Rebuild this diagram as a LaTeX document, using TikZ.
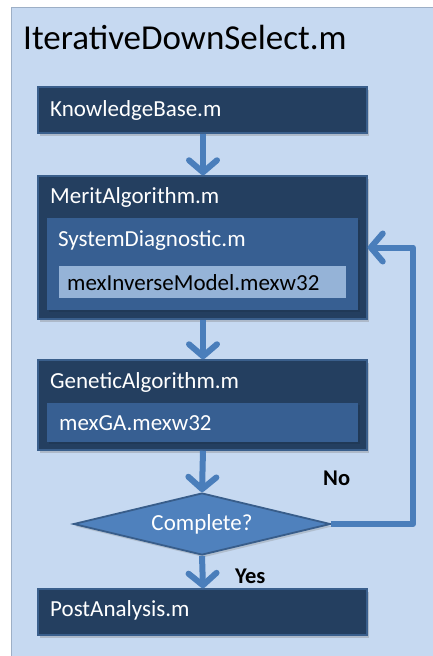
\documentclass[tikz,border=0pt]{standalone}
\usepackage{fontspec}
\setmainfont{Carlito}
\usetikzlibrary{arrows.meta,shapes.geometric,shadows,positioning}
\definecolor{panelblue}{HTML}{C6D9F1}
\definecolor{panelline}{HTML}{9DAFC6}
\definecolor{navy}{HTML}{243F60}
\definecolor{navyline}{HTML}{3A5F8C}
\definecolor{midblue}{HTML}{375F92}
\definecolor{lightblue}{HTML}{95B3D7}
\definecolor{accent}{HTML}{4A7EBB}
\definecolor{diamondfill}{HTML}{4F81BD}
\definecolor{diamondline}{HTML}{385D8A}
\tikzset{
  x=1pt, y=-1pt,
  outerbox/.style={draw=navyline, line width=1.5pt, fill=navy, inner sep=0pt,
    drop shadow={opacity=0.35, shadow xshift=2pt, shadow yshift=-2.5pt}},
  innerbox/.style={fill=midblue, inner sep=0pt,
    drop shadow={opacity=0.45, fill=navy!80!black, shadow xshift=2pt, shadow yshift=-2pt}},
  leafbox/.style={fill=lightblue, inner sep=0pt},
  lbl/.style={font=\fontsize{23}{26}\selectfont, text=white, anchor=west, inner sep=0pt},
  flow/.style={draw=accent, line width=6pt,
    -{Straight Barb[length=12pt, width=28pt, line cap=round, line join=round]}},
  decision/.style={diamond, draw=diamondline, line width=1.8pt, fill=diamondfill,
    inner sep=0pt, minimum width=257pt, minimum height=62pt,
    drop shadow={opacity=0.3, shadow xshift=2pt, shadow yshift=-2.5pt}},
  answer/.style={font=\fontsize{22.5}{26}\selectfont\bfseries, text=black, inner sep=0pt, anchor=west},
}
\begin{document}
\begin{tikzpicture}
\useasboundingbox (0,0) rectangle (433,656);
\fill[white] (0,0) rectangle (433,656);
% background panel
\fill[panelblue, draw=panelline, line width=1pt] (11,7) rectangle (440,664);
\node[font=\fontsize{35}{40}\selectfont, anchor=west, inner sep=0pt] (title) at (23,37) {IterativeDownSelect.m};

% boxes
\node[outerbox, minimum width=329pt, minimum height=46pt] (kb) at (202.5,110) {};
\node[lbl] (kbt) at (50,110) {KnowledgeBase.m};

\node[outerbox, minimum width=329pt, minimum height=143pt] (merit) at (202.5,247.5) {};
\node[lbl] (meritt) at (50,197) {MeritAlgorithm.m};
\node[innerbox, minimum width=311pt, minimum height=92pt] (sd) at (202.5,264) {};
\node[lbl] (sdt) at (58,241) {SystemDiagnostic.m};
\node[leafbox, minimum width=287pt, minimum height=32pt] (inv) at (202.5,282) {};
\node[lbl, text=black] (invt) at (67,283) {mexInverseModel.mexw32};

\node[outerbox, minimum width=329pt, minimum height=90pt] (ga) at (202.5,405) {};
\node[lbl] (gat) at (50,382) {GeneticAlgorithm.m};
\node[innerbox, minimum width=311pt, minimum height=39pt] (mexga) at (202.5,422.5) {};
\node[lbl] (mexgat) at (59,423) {mexGA.mexw32};

\node[decision] (done) at (202,524) {};
\node[font=\fontsize{23}{26}\selectfont, text=white, inner sep=0pt] (donet) at (202,524) {Complete?};

\node[outerbox, minimum width=329pt, minimum height=46pt] (post) at (202.5,612) {};
\node[lbl] (postt) at (50,610) {PostAnalysis.m};

% connectors
\draw[flow] (kb.south -| 203,0) -- (merit.north -| 203,0);
\draw[flow] (merit.south -| 203,0) -- (ga.north -| 203,0);
\draw[flow] (ga.south -| 203,0) -- (done.north);
\draw[flow] (done.south) -- (post.north -| 203,0);
\coordinate (loopb) at (413,524);
\coordinate (loopt) at (413,247.5);
\draw[flow, line join=round] (done.east) -- (loopb) -- (loopt) -- (merit.east);

\node[answer] (no) at (323,478) {No};
\node[answer] (yes) at (235,576) {Yes};
\end{tikzpicture}
\end{document}
